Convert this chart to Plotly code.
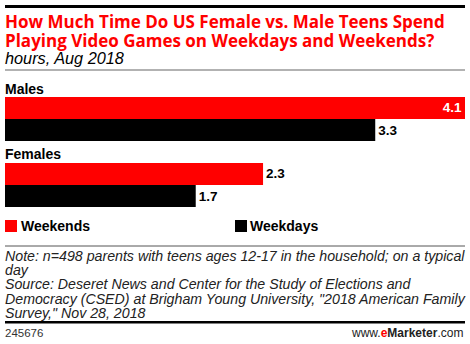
import plotly.graph_objects as go

categories = ["Males", "Females"]
weekends = [4.1, 2.3]
weekdays = [3.3, 1.7]
series_names = ["Weekends", "Weekdays"]
series_colors = ["#ff0000", "#000000"]

W, H = 470, 344
L, R, T, B = 5, 465, 86, 218  # plot area in pixels


def px(x):
    return (x - L) / (R - L)


def py(y):
    return (B - y) / (B - T)


FONT = "Liberation Sans, Arial, sans-serif"
WIDE = "Open Sans, sans-serif"

fig = go.Figure()
for name, vals, col in zip(series_names, [weekends, weekdays], series_colors):
    fig.add_trace(go.Bar(
        y=categories, x=vals, name=name, orientation="h",
        marker=dict(color=col, line=dict(width=0)),
        text=[f"<b>{v:.1f}</b>" for v in vals],
        textposition=["inside" if v >= 4 else "outside" for v in vals],
        insidetextanchor="end",
        insidetextfont=dict(color="white", size=13.5, family=FONT),
        outsidetextfont=dict(color="black", size=13.5, family=FONT),
        cliponaxis=False,
        showlegend=False,
    ))

fig.update_layout(
    width=W, height=H,
    margin=dict(l=L, r=W - R, t=T, b=H - B, pad=0),
    paper_bgcolor="white", plot_bgcolor="white",
    barmode="group", bargap=0.333, bargroupgap=0,
    xaxis=dict(range=[0, max(weekends)], visible=False, fixedrange=True),
    yaxis=dict(autorange="reversed", visible=False, fixedrange=True),
    font=dict(family=FONT, color="black"),
)

anns = []


def text(x, y, s, size, color="black", xanchor="left", bold=False, italic=False, family=FONT):
    if bold:
        s = f"<b>{s}</b>"
    if italic:
        s = f"<i>{s}</i>"
    anns.append(dict(x=px(x), y=py(y), xref="paper", yref="paper", text=s,
                     showarrow=False, xanchor=xanchor, yanchor="middle",
                     font=dict(size=size, color=color, family=family),
                     borderpad=0))


text(4, 21, "How Much Time Do US Female vs. Male Teens Spend", 17, "#ff0000", bold=True, family=WIDE)
text(4, 40, "Playing Video Games on Weekdays and Weekends?", 17, "#ff0000", bold=True, family=WIDE)
text(4, 58, "hours, Aug 2018", 16.3, italic=True)
text(4, 89, categories[0], 14, bold=True)
text(4, 154, categories[1], 14, bold=True)
text(20, 226, series_names[0], 14, bold=True)
text(249, 226, series_names[1], 14, bold=True)
notes = [
    "Note: n=498 parents with teens ages 12-17 in the household; on a typical",
    "day",
    "Source: Deseret News and Center for the Study of Elections and",
    "Democracy (CSED) at Brigham Young University, \"2018 American Family",
    "Survey,\" Nov 28, 2018",
]
for i, n in enumerate(notes):
    text(4, 256 + i * 14.2, n, 14.2, "#222", italic=True)
text(4, 333, "245676", 11.5, "#333")
text(464, 333, "www.<b><span style='color:#ff0000'>e</span>Marketer</b>.com", 12, "#222", xanchor="right")
fig.update_layout(annotations=anns)

shapes = [
    dict(type="rect", x0=px(5), x1=px(465), y0=py(5), y1=py(8), fillcolor="black", line=dict(width=0)),
    dict(type="line", x0=px(5), x1=px(465), y0=py(70), y1=py(70), line=dict(color="#999999", width=1.5)),
    dict(type="rect", x0=px(5), x1=px(17), y0=py(220), y1=py(232), fillcolor=series_colors[0], line=dict(width=0)),
    dict(type="rect", x0=px(235), x1=px(247), y0=py(220), y1=py(232), fillcolor=series_colors[1], line=dict(width=0)),
    dict(type="line", x0=px(5), x1=px(465), y0=py(246), y1=py(246), line=dict(color="#555555", width=1)),
    dict(type="rect", x0=px(5), x1=px(465), y0=py(321), y1=py(323.5), fillcolor="black", line=dict(width=0)),
]
for s in shapes:
    s.update(xref="paper", yref="paper")
fig.update_layout(shapes=shapes)

fig.write_html("out.html", config={"displayModeBar": False})
